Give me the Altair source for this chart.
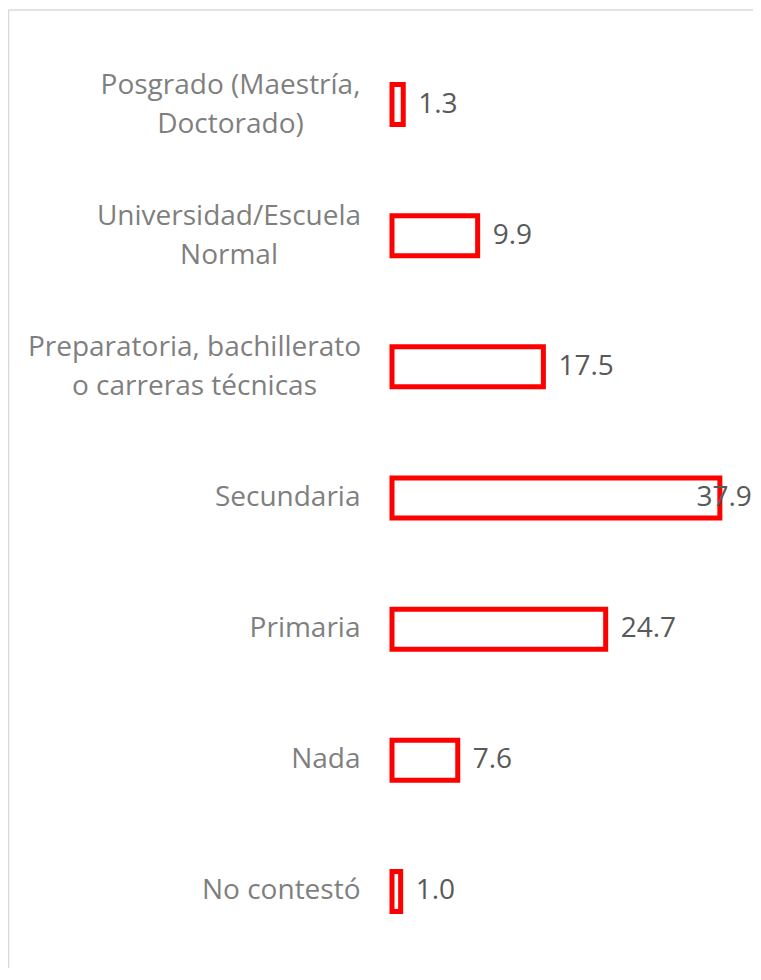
import altair as alt
import pandas as pd

categories = [
    "Posgrado (Maestría,\nDoctorado)",
    "Universidad/Escuela\nNormal",
    "Preparatoria, bachillerato\no carreras técnicas",
    "Secundaria",
    "Primaria",
    "Nada",
    "No contestó",
]
values = [1.3, 9.9, 17.5, 37.9, 24.7, 7.6, 1.0]

df = pd.DataFrame({"cat": categories, "value": values})
df["label"] = df["value"].map(lambda v: f"{v:.1f}")

FONT = "Open Sans"
FS = 28
PW = 361
PAD = 32

multi = "indexof(datum.value, '\\n') >= 0"

y_enc = alt.Y(
    "cat:N",
    sort=categories,
    scale=alt.Scale(paddingInner=0, paddingOuter=0),
    axis=alt.Axis(
        title=None,
        domain=False,
        ticks=False,
        labelPadding={
            "condition": [
                {"test": "indexof(datum.value, 'Posgrado') == 0", "value": PAD + 130},
                {"test": "indexof(datum.value, 'Universidad') == 0", "value": PAD + 131.5},
                {"test": "indexof(datum.value, 'Preparatoria') == 0", "value": PAD + 166},
            ],
            "value": PAD,
        },
        labelAlign={"condition": {"test": multi, "value": "center"}, "value": "right"},
        labelOffset={"condition": {"test": multi, "value": -19}, "value": 0},
        labelFont=FONT,
        labelFontSize=FS,
        labelColor="#7f7f7f",
        labelLineHeight=39,
        labelLimit=400,
        labelExpr="split(datum.value, '\\n')",
    ),
)
x_enc = alt.X(
    "value:Q",
    scale=alt.Scale(domain=[0, 41.73], nice=False, zero=True),
    axis=None,
)

base = alt.Chart(df)

bars = base.mark_bar(size=40, fill="white", stroke="#ff0000", strokeWidth=5).encode(
    x=x_enc, y=y_enc
)

labels = base.transform_filter("datum.value < 35").mark_text(
    align="left", baseline="middle", dx=15, font=FONT, fontSize=FS, color="#595959"
).encode(x=x_enc, y=y_enc, text="label:N")

labels_big = base.transform_filter("datum.value >= 35").mark_text(
    align="right", baseline="middle", dx=32, font=FONT, fontSize=FS, color="#595959"
).encode(x=x_enc, y=y_enc, text="label:N")

border_df = pd.DataFrame({"a": [0]})
top_rule = alt.Chart(border_df).mark_rule(color="#d9d9d9", strokeWidth=1.5).encode(
    x=alt.value(-383.5), x2=alt.value(PW + 10), y=alt.value(-29)
)
left_rule = alt.Chart(border_df).mark_rule(color="#d9d9d9", strokeWidth=1.5).encode(
    x=alt.value(-383.5), y=alt.value(-29), y2=alt.value(1000)
)

chart = (
    alt.layer(top_rule, left_rule, bars, labels, labels_big)
    .properties(
        width=PW,
        height=918,
        padding={"left": 384, "top": 31, "right": 0, "bottom": 11},
        autosize=alt.AutoSizeParams(type="none"),
        background="white",
    )
    .configure_view(strokeWidth=0, stroke="transparent")
)

chart.save("out.html", embed_options={"renderer": "svg", "actions": False})
